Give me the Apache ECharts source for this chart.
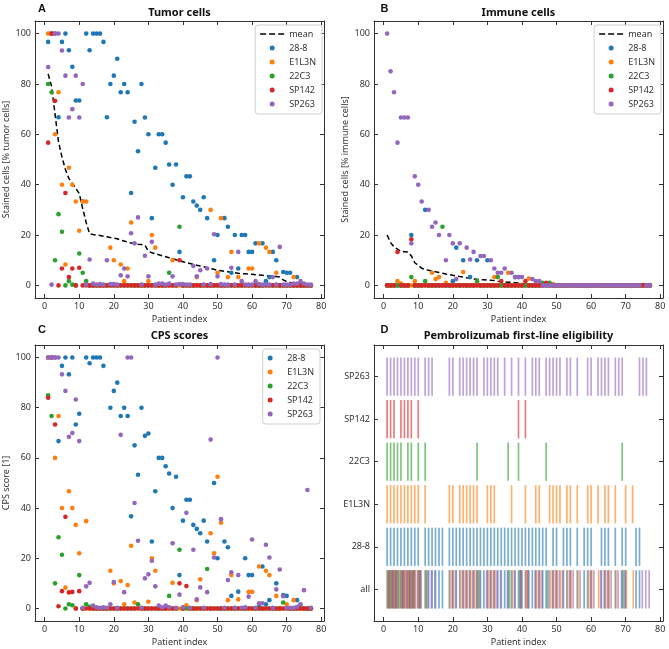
<!DOCTYPE html>
<html>
<head>
<meta charset="utf-8">
<script src="https://cdn.jsdelivr.net/npm/echarts@6/dist/echarts.min.js"></script>
<style>
html, body { margin: 0; padding: 0; background: #fff; }
#chart { width: 669px; height: 649px; }
</style>
</head>
<body>
<div id="chart"></div>
<script>
var antibodies = ['28-8', 'E1L3N', '22C3', 'SP142', 'SP263'];
var colors = ['#1f77b4', '#ff7f0e', '#2ca02c', '#d62728', '#9467bd'];
var xTicks = [0, 10, 20, 30, 40, 50, 60, 70, 80];
var pctTicks = [0, 20, 40, 60, 80, 100];
var eligRows = ['all', '28-8', 'E1L3N', '22C3', 'SP142', 'SP263'];

// A: tumor cells, one value per patient index 1..77
var tumMean = [84, 79, 68, 57, 51, 46, 42.5, 40.5, 38.5, 36.5,
  30.5, 25, 20.5, 20.2, 20, 19.8, 19.5, 19.3, 19, 18.8,
  18.5, 18, 17.6, 17.2, 16.8, 16.5, 16.3, 16.2, 16, 13.5,
  13, 12.6, 12.2, 11.8, 11.4, 11, 10.6, 10.2, 9.8, 9.4,
  9, 8.7, 8.4, 8, 7.7, 7.4, 7, 6.7, 6.4, 6,
  5.8, 5.6, 5.4, 5.2, 5, 4.8, 4.7, 4.6, 4.5, 4.4,
  4.2, 4.1, 4, 3.9, 3.8, 3.6, 3.5, 3.3, 2.2, 1.5,
  1.2, 1, 0.8, 0.6, 0.5, 0.4, 0.2];
var tumBlue = [96.7, 100, 100, 66.8, 96.7, 100, 93.4, 86.8, 73.4, 73.4,
  33.4, 100, 93.4, 100, 100, 100, 96.7, 66.8, 80, 83.3,
  90, 76.7, 80, 76.7, 36.7, 65, 53.3, 80, 66.7, 60,
  26.7, 46.7, 60, 60, 56.7, 48, 40, 48, 13.3, 35,
  43.3, 43.3, 33.3, 31.7, 30, 35, 26.7, 0, 10, 20,
  0, 26.7, 23.3, 5, 20, 6.7, 20, 20, 13.3, 13.3,
  16.7, 0, 16.7, 1.7, 3.3, 13.3, 10, 0, 5.3, 5,
  5, 0, 3.3, 0, 0, 0, 0];
var tumOrange = [100, 100, 60, 76.7, 40, 8.3, 46.7, 40, 33.3, 21.7,
  33.3, 33.3, 0, 0, 0, 0, 0, 0, 15, 10,
  0, 8.3, 1.7, 6.7, 25, 0, 0, 0, 0, 1.7,
  20, 15, 0, 0, 0, 0, 10, 0, 0, 0,
  0, 0, 0, 3.3, 0, 0, 0, 30, 0, 5,
  26.7, 0, 3.3, 13.3, 0, 3.3, 0, 0, 6.7, 6.7,
  0, 16.7, 0, 15, 13.3, 0, 5, 0, 0, 0,
  0, 3.3, 0, 0, 0, 0, 0];
var tumGreen = [80, 76.7, 10, 28.3, 21.3, 0, 1.7, 0.3, 0, 12.7,
  5, 1.7, 0, 0, 0, 0, 0, 0, 0, 0,
  0, 0, 0, 0, 0, 0, 0, 0, 0, 0,
  0, 0, 0, 0, 0, 5, 0, 0, 23.3, 0,
  0, 0, 0, 0, 0, 0, 0, 0, 0, 0,
  0, 0, 0, 0, 0, 0, 0, 0, 0, 0,
  0, 0, 0, 0, 0, 0, 0, 0, 0, 0,
  0, 0, 0, 0, 0, 0, 0];
var tumRed = [56.7, 100, 73.3, 0, 6.7, 36.7, 3.3, 6.7, 0, 7,
  0, 0, 0, 0, 0, 0, 0, 0, 0, 0,
  0, 0, 0, 0, 0, 0, 0, 0, 0, 0,
  0, 0, 0, 0, 0, 0, 0, 0, 10, 0,
  0, 0, 0, 0, 0, 0, 0, 0, 0, 0,
  0, 0, 0, 0, 0, 0, 0, 0, 0, 0,
  0, 0, 0, 0, 0, 0, 0, 0, 0, 0,
  0, 0, 0, 0, 0, 0, 0];
var tumPurple = [86.7, 0.3, 100, 100, 93.3, 83.3, 66.7, 70, 83.3, 66.7,
  80, 0.3, 10.3, 0.7, 0.3, 0.5, 0.3, 10, 0.5, 0.5,
  0.3, 4, 6.7, 3.6, 20.7, 16.7, 27, 0.3, 11.8, 3.6,
  17.3, 0.3, 0.7, 0.7, 0.3, 0.7, 3.6, 0.3, 0.5, 0.5,
  0.3, 0.3, 7.7, 3.6, 6, 0.3, 6.7, 0.5, 20.3, 3.6,
  0.5, 0.3, 0.3, 7, 0.3, 13.3, 1.7, 0.3, 0.3, 0.3,
  1.7, 0.5, 0.3, 0.3, 0.3, 3.3, 0.3, 15.3, 0.3, 0.3,
  0.3, 0.7, 0.7, 1.7, 0.7, 0.3, 0.3];

// B: immune cells
var imMean = [20, 17, 15.3, 14.4, 13.5, 13.4, 13.3, 11.7, 9, 8,
  6.8, 6.3, 6, 5.7, 5.4, 5.1, 4.8, 4.5, 4.3, 4,
  3.8, 3.5, 3.3, 3, 2.8, 2.6, 2.4, 2.3, 2.2, 2.1,
  2, 1.9, 1.7, 1.6, 1.4, 1.3, 1.2, 1.1, 1, 0.8,
  0.6, 0.5, 0.4, 0.35, 0.3, 0.3, 0.2, 0.2, 0.1, 0.05,
  0, 0, 0, 0, 0, 0, 0, 0, 0, 0,
  0, 0, 0, 0, 0, 0, 0, 0, 0, 0,
  0, 0, 0, 0, 0, 0, 0];
var imBlue = [0, 0, 0, 0, 0, 0, 0, 20, 0, 0,
  0, 30, 0, 0, 0, 0, 0, 0, 0, 1.7,
  15, 0, 10, 0, 3.3, 0, 10, 0, 0, 10,
  0, 0, 0, 0, 0, 0, 0, 3.3, 3.3, 0,
  0, 0, 0, 0, 0, 0, 0, 0, 0, 0,
  0, 0, 0, 0, 0, 0, 0, 0, 0, 0,
  0, 0, 0, 0, 0, 0, 0, 0, 0, 0,
  0, 0, 0, 0, 0, 0, 0];
var imOrange = [0, 0, 0, 1.7, 0.7, 0, 0, 0, 1.7, 0,
  0, 0, 0, 5, 2.5, 3.3, 0, 1, 0, 0,
  0, 0, 5.3, 0, 0, 0, 0, 0, 0, 0,
  0, 3.3, 0, 0, 0, 5, 0, 0, 0, 0,
  0, 2.7, 0, 0, 0, 0, 0, 0, 0.5, 0,
  0, 0, 0, 0, 0, 0, 0, 0, 0, 0,
  0, 0, 0, 0, 0, 0, 0, 0, 0, 0,
  0, 0, 0, 0, 0, 0, 0];
var imGreen = [0, 0, 0, 0, 0, 0, 0, 3.3, 0, 0,
  0, 1.7, 0, 0, 0, 0, 23.3, 0, 0, 0,
  0, 0, 0, 0, 0, 0, 1.7, 0, 0, 0,
  0, 0, 3.3, 0, 0, 0, 0, 0, 0, 0,
  0, 0, 0, 0, 0, 1, 0, 1, 0, 0,
  0, 0, 0, 0, 0, 0, 0, 0, 0, 0,
  0, 0, 0, 0, 0, 0, 0, 0, 0, 0,
  0, 0, 0, 0, 0, 0, 0];
var imRed = [0, 0, 0, 13.3, 0, 0, 0, 18.3, 0, 0,
  0, 0, 0, 0, 0, 0, 0, 0, 0, 0,
  0, 0, 0, 0, 0, 0, 0, 0, 0, 0,
  0, 0, 0, 1.7, 0, 0, 0, 0, 0, 0,
  1.7, 0, 0, 0, 0, 0, 1, 0, 0, 0,
  0, 0, 0, 0, 0, 0, 0, 0, 0, 0,
  0, 0, 0, 0, 0, 0, 0, 0, 0, 0,
  0, 0, 0, 0, 0, 0, 0];
var imPurple = [100, 85, 76.7, 56.7, 66.7, 66.7, 66.7, 16.7, 43.3, 40,
  33.3, null, 30, 23.3, 25, 20, null, 10, 20, 16.7,
  2.5, 16.7, null, 15, 10.3, 13.3, null, 11.7, 11.7, null,
  10, 6.7, 5, 5, 6.7, null, 5, 3.3, 3.3, 3.3,
  null, null, 2.5, 1.7, 1.7, 0, 0, 0, 0, 0,
  0, 0, 0, 0, 0, 0, 0, 0, 0, 0,
  0, 0, 0, 0, 0, 0, 0, 0, 0, 0,
  0, 0, 0, 0, null, 0, 0];

// C: CPS scores
var cpsBlue = [100, 100, 100, 66.7, 96.7, 100, 93.3, 100, 73.3, 77.6,
  0, 100, 97.7, 100, 100, 100, 96.7, 0, 80, 86.7,
  90, 76.7, 80, 76.7, 36.7, 65, 53.3, 80, 68.8, 69.7,
  26.7, 46.7, 60, 60, 56.7, 53.8, 40, 52.5, 13.3, 35,
  43.3, 43.3, 33.3, 31.7, 30, 35, 26.7, 0, 50, 20,
  0, 26.7, 24.4, 5, 0, 6.7, 0, 20, 13.3, 13.3,
  0, 0.7, 16.7, 1.7, 3.3, 0, 10, 0, 5.3, 5,
  0, 0, 3.3, 1.5, 0, 0, 0];
var cpsOrange = [100, 100, 60, 76.7, 40, 8.3, 46.7, 40, 33.3, 22,
  0, 34.8, 0, 0, 0, 0, 0, 0, 15, 10,
  0, 10.9, 1.7, 9.3, 25, 2.4, 1.5, 0, 0, 2.7,
  20, 15, 0, 0, 0, 0, 10.2, 0, 0, 0,
  1.3, 0, 0, 3.3, 11.6, 0, 0, 30, 22, 52.5,
  34.2, 0, 3.3, 13.3, 0, 3.6, 0, 0, 6.6, 6.6,
  0, 16.7, 0, 15, 13.3, 0, 5, 0, 0, 1.7,
  0, 3.3, 0, 0, 0, 0, 0];
var cpsGreen = [85, 76.7, 10, 28.4, 21.4, 0, 1.7, 1.3, 0, 13.3,
  0, 1.7, 0.7, 0, 0, 0, 0, 0, 0, 0,
  0, 0, 0, 0, 0, 0, 1.7, 0, 0, 0,
  0, 0, 0, 0, 0, 5, 0, 0, 23.4, 0,
  0, 0, 0, 0, 0, 0, 15.7, 0, 0, 0,
  0, 0, 0, 0, 0, 0, 0, 0, 0, 0,
  0, 0, 0, 0, 0, 0, 0, 0, 2.4, 0,
  0, 0, 0, 0, 0, 0, 0];
var cpsRed = [84, 100, 73.3, 0.9, 6.9, 36.5, 6.4, 6.6, 0, 6.9,
  0, 0, 0, 0, 0, 0, 0, 0, 0, 0,
  0, 0, 0, 0, 0, 0, 0, 0, 0, 0,
  0, 0, 0, 0, 0, 0, 0, 0, 10, 0,
  8.9, 0, 0, 0, 0, 0, 0, 0, 0, 0,
  0, 0, 0, 0, 0, 0, 0, 0, 0, 0,
  0, 0, 0, 0, 0, 0, 0, 0, 0, 0,
  0, 0, 0, 0, 0, 0, 0];
var cpsPurple = [100, 100, 100, 100, 93.3, 86.7, 68.4, 69.9, 83.3, 66.7,
  0.3, 8.8, 10.2, 1.2, 0.5, 0.3, 0.5, 0.3, 1.7, 10.5,
  0.3, 69.2, 6.5, 100, 100, 42, 27, 0.3, 12, 13.6,
  19, 8.8, 1.2, 0.5, 1.2, 0.5, 26, 0.3, 5.5, 0.5,
  38.1, 0.3, 23.4, 3.6, 8.4, 0.3, 6.5, 67.3, 20.3, 100,
  35.6, 0.3, 11.3, 14.4, 0.3, 13.3, 0.3, 0.5, 4.7, 27.5,
  0.3, 2.1, 2.1, 25.4, 20.3, 0.3, 7.6, 15.5, 4.9, 0.3,
  0.3, 0.3, 0.7, 1.7, 7.3, 47.2, 0.3];

// D: eligible patient indices per antibody
var elig288 = [1, 2, 3, 4, 5, 6, 7, 8, 9, 10, 12, 13, 14, 15, 16, 17, 19, 20, 21, 22,
  23, 24, 25, 26, 27, 28, 29, 30, 31, 32, 33, 34, 35, 36, 37, 38, 39, 40, 41, 42,
  43, 44, 45, 46, 47, 49, 50, 52, 53, 54, 56, 58, 59, 60, 63, 64, 65, 67, 69, 70, 73, 74];
var eligE1L3N = [1, 2, 3, 4, 5, 6, 7, 8, 9, 10, 12, 19, 20, 22, 23, 24, 25, 26, 27, 30,
  31, 32, 37, 41, 44, 45, 48, 49, 50, 51, 53, 54, 56, 59, 60, 62, 64, 65, 67, 70, 72];
var elig22C3 = [1, 2, 3, 4, 5, 7, 8, 10, 12, 27, 36, 39, 47, 69];
var eligSP142 = [1, 2, 3, 5, 6, 7, 8, 10, 39, 41];
var eligSP263 = [1, 2, 3, 4, 5, 6, 7, 8, 9, 10, 12, 13, 14, 19, 20, 22, 23, 24, 25, 26,
  27, 29, 30, 31, 32, 33, 35, 37, 39, 41, 43, 44, 45, 47, 48, 49, 50, 51, 53, 54,
  56, 59, 60, 62, 63, 64, 65, 67, 68, 69, 74, 75, 76];

var FONT = '"Noto Sans", "DejaVu Sans", sans-serif';
var TXT = '#333';
// dashed stroke for the "mean" legend entry
var DASH_ICON = 'path://M0,0h6v1.6h-6z M9,0h6v1.6h-6z M18,0h6v1.6h-6z';

var chart = echarts.init(document.getElementById('chart'));

function points(values) {
    var out = [];
    values.forEach(function (v, i) {
        if (v !== null) out.push([i + 1, v]);
    });
    return out;
}

function xAxes(g, withName) {
    return [{
        type: 'value', gridIndex: g, min: -2.8, max: 80.8,
        name: withName ? 'Patient index' : '', nameLocation: 'middle', nameGap: 17,
        nameTextStyle: { fontSize: 9, color: TXT, fontFamily: FONT },
        axisLine: { show: true, onZero: false, lineStyle: { color: '#333', width: 1 } },
        axisTick: { show: true, inside: true, length: 4, customValues: xTicks, lineStyle: { color: '#333' } },
        axisLabel: { show: true, customValues: xTicks, fontSize: 9, color: TXT, fontFamily: FONT, margin: 4 },
        splitLine: { show: false }
    }, {
        type: 'value', gridIndex: g, position: 'top', min: -2.8, max: 80.8,
        axisLine: { show: true, onZero: false, lineStyle: { color: '#333', width: 1 } },
        axisTick: { show: true, inside: true, length: 4, customValues: xTicks, lineStyle: { color: '#333' } },
        axisLabel: { show: false },
        splitLine: { show: false }
    }];
}

function yAxes(g, min, max, ticks, name, formatter) {
    return [{
        type: 'value', gridIndex: g, min: min, max: max,
        name: name, nameLocation: 'middle', nameGap: 24, nameRotate: 90,
        nameTextStyle: { fontSize: 9, color: TXT, fontFamily: FONT },
        axisLine: { show: true, onZero: false, lineStyle: { color: '#333', width: 1 } },
        axisTick: { show: true, inside: true, length: 4, customValues: ticks, lineStyle: { color: '#333' } },
        axisLabel: { show: true, customValues: ticks, formatter: formatter, fontSize: 9, color: TXT, fontFamily: FONT, margin: 4 },
        splitLine: { show: false }
    }, {
        type: 'value', gridIndex: g, position: 'right', min: min, max: max,
        axisLine: { show: true, onZero: false, lineStyle: { color: '#333', width: 1 } },
        axisTick: { show: true, inside: true, length: 4, customValues: ticks, lineStyle: { color: '#333' } },
        axisLabel: { show: false },
        splitLine: { show: false }
    }];
}

function scatter(name, color, values, g) {
    return {
        name: name, type: 'scatter', xAxisIndex: g * 2, yAxisIndex: g * 2,
        data: points(values), symbolSize: 4.6,
        itemStyle: { color: color, opacity: 1 }, z: 3, silent: true
    };
}

function meanLine(values, g) {
    return {
        name: 'mean', type: 'line', xAxisIndex: g * 2, yAxisIndex: g * 2,
        data: points(values), symbol: 'none', showSymbol: false,
        lineStyle: { color: '#000', width: 1.5, type: [5, 3] },
        itemStyle: { color: '#000' }, z: 2, silent: true
    };
}

// one vertical tick per eligible patient, like an event plot
function events(color, list, row, offset) {
    return {
        type: 'custom', name: 'ev', xAxisIndex: 6, yAxisIndex: 6,
        data: list.map(function (p) { return [p, row]; }),
        itemStyle: { color: color }, silent: true, z: 2,
        renderItem: function (params, api) {
            var x = api.value(0) + offset;
            var r = api.value(1);
            var a = api.coord([x, r + 0.45]);
            var b = api.coord([x, r - 0.45]);
            return {
                type: 'line',
                shape: { x1: a[0], y1: a[1], x2: b[0], y2: b[1] },
                style: { stroke: color, lineWidth: 1.7, opacity: 0.6 }
            };
        }
    };
}

var series = [meanLine(tumMean, 0), meanLine(imMean, 1)];
var panelData = [
    [tumBlue, tumOrange, tumGreen, tumRed, tumPurple],
    [imBlue, imOrange, imGreen, imRed, imPurple],
    [cpsBlue, cpsOrange, cpsGreen, cpsRed, cpsPurple]
];
panelData.forEach(function (sets, g) {
    sets.forEach(function (vals, k) {
        series.push(scatter(antibodies[k], colors[k], vals, g));
    });
});

var eligLists = [elig288, eligE1L3N, elig22C3, eligSP142, eligSP263];
eligLists.forEach(function (list, k) {
    series.push(events(colors[k], list, k + 1, 0));
});
eligLists.forEach(function (list, k) {
    series.push(events(colors[k], list, 0, k * 0.2));
});

function legendAt(right, top, withMean) {
    var names = antibodies.map(function (n) { return { name: n, icon: 'circle' }; });
    if (withMean) names.unshift({ name: 'mean', icon: DASH_ICON });
    return {
        orient: 'vertical', right: right, top: top, data: names,
        itemWidth: 24, itemHeight: 5, itemGap: 0,
        padding: [2, 6, 3, 5],
        borderColor: '#cfcfcf', borderWidth: 1, borderRadius: 3,
        backgroundColor: 'rgba(255,255,255,0.8)',
        selectedMode: false,
        textStyle: { fontSize: 9, lineHeight: 14, color: TXT, fontFamily: FONT }
    };
}

function label(text, x, y, bold, size, family) {
    return {
        type: 'text', x: x, y: y, silent: true,
        style: {
            text: text, fill: '#111', align: 'center', verticalAlign: 'middle',
            font: (bold ? 'bold ' : '') + size + 'px ' + family
        }
    };
}

var option = {
    animation: false,
    backgroundColor: '#fff',
    grid: [
        { left: 35, top: 21, width: 289, height: 277 },
        { left: 374, top: 21, width: 289, height: 277 },
        { left: 35, top: 345, width: 289, height: 276 },
        { left: 374, top: 345, width: 289, height: 276 }
    ],
    xAxis: [].concat(xAxes(0, true), xAxes(1, true), xAxes(2, true), xAxes(3, true)),
    yAxis: [].concat(
        yAxes(0, -5, 105, pctTicks, 'Stained cells [% tumor cells]'),
        yAxes(1, -5, 105, pctTicks, 'Stained cells [% immune cells]'),
        yAxes(2, -5, 105, pctTicks, 'CPS score [1]'),
        yAxes(3, -0.745, 5.745, [0, 1, 2, 3, 4, 5], '', function (v) { return eligRows[v]; })
    ),
    legend: [
        legendAt(347, 25, true),
        legendAt(8, 25, true),
        legendAt(349, 349, false)
    ],
    graphic: [
        label('A', 42, 9, true, 11, '"Liberation Sans", Arial, sans-serif'),
        label('B', 384.5, 9, true, 11, '"Liberation Sans", Arial, sans-serif'),
        label('C', 42, 330, true, 11, '"Liberation Sans", Arial, sans-serif'),
        label('D', 384.5, 330, true, 11, '"Liberation Sans", Arial, sans-serif'),
        label('Tumor cells', 179.5, 12.5, true, 11, FONT),
        label('Immune cells', 518.5, 12.5, true, 11, FONT),
        label('CPS scores', 179.5, 335.5, true, 11, FONT),
        label('Pembrolizumab first-line eligibility', 518.5, 335.5, true, 11, FONT)
    ],
    series: series
};

chart.setOption(option);
</script>
</body>
</html>
